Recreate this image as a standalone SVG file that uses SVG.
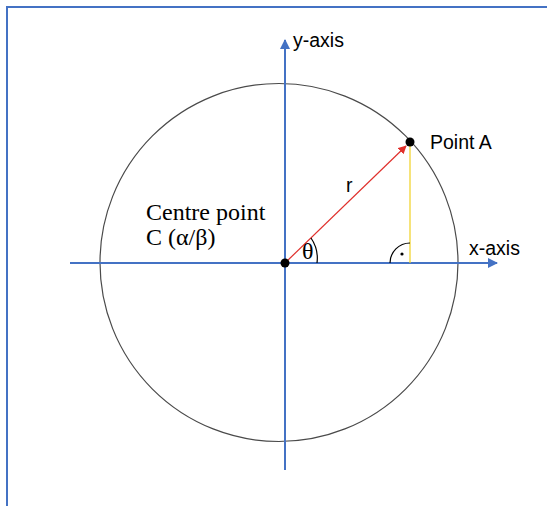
<svg xmlns="http://www.w3.org/2000/svg" width="547" height="506" viewBox="0 0 547 506">
<defs>
<style>
.sans{font-family:"Liberation Sans",Arial,sans-serif;font-size:19.5px;fill:#000}
.serif{font-family:"Liberation Serif","Times New Roman",serif;font-size:24px;fill:#000}
.axis{stroke:#4472c4;stroke-width:2;fill:none}
</style>
<marker id="blueArrow" viewBox="0 0 10 10" refX="9" refY="5" markerWidth="5" markerHeight="5" orient="auto" markerUnits="strokeWidth">
<path d="M0,0 L10,5 L0,10 z" fill="#4472c4"/>
</marker>
<marker id="redArrow" viewBox="0 0 10 10" refX="9" refY="5" markerWidth="7" markerHeight="7" orient="auto" markerUnits="strokeWidth">
<path d="M0,0 L10,5 L0,10 z" fill="#e0302c"/>
</marker>
</defs>
<rect width="547" height="506" fill="#fff"/>
<g id="frame">
<path d="M7,506 L7,7 L547,7" stroke="#4472c4" stroke-width="2" fill="none"/>
</g>
<g id="circle">
<circle cx="279" cy="262.5" r="179" fill="none" stroke="#4a4a4a" stroke-width="1.2"/>
</g>
<g id="connectors">
<line class="axis" x1="70" y1="263" x2="497" y2="263" marker-end="url(#blueArrow)"/>
<line class="axis" x1="285" y1="470" x2="285" y2="40" marker-end="url(#blueArrow)"/>
<line x1="410" y1="146" x2="410" y2="263" stroke="#f0d020" stroke-width="1.2"/>
<line x1="285" y1="263" x2="406" y2="146" stroke="#e0302c" stroke-width="1.2" marker-end="url(#redArrow)"/>
<path d="M311,238 A36,36 0 0 1 317,263" fill="none" stroke="#000" stroke-width="1.2"/>
<path d="M390,263 A20,20 0 0 1 410,243" fill="none" stroke="#000" stroke-width="1.2"/>
<circle cx="402" cy="254" r="1.6" fill="#000"/>
</g>
<g id="origin">
<circle cx="285" cy="263" r="4.5" fill="#000"/>
</g>
<g id="pointA">
<circle cx="410" cy="142" r="4.5" fill="#000"/>
<text class="sans" x="430" y="149">Point A</text>
</g>
<g id="labels">
<text class="sans" x="293" y="47">y-axis</text>
<text class="sans" x="469" y="255">x-axis</text>
<text class="sans" x="346" y="192">r</text>
<text class="serif" x="302" y="259">θ</text>
<text class="serif" x="146" y="220">Centre point</text>
<text class="serif" x="146" y="245">C (α/β)</text>
</g>
</svg>
